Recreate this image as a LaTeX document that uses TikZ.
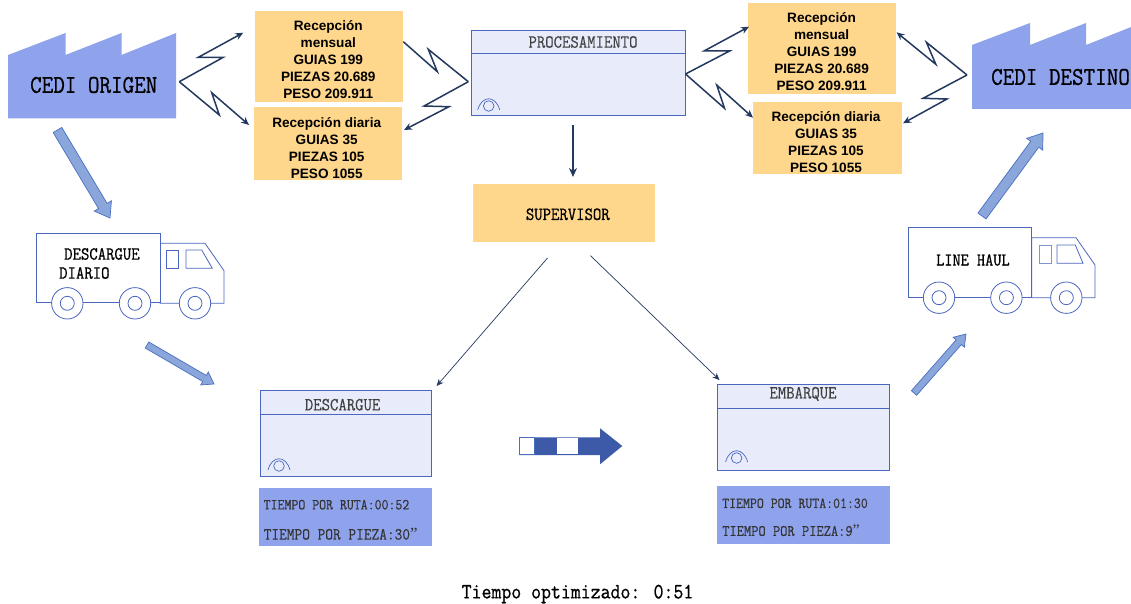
\documentclass[tikz,border=0pt]{standalone}
\usepackage{fontspec}
\setmainfont{Liberation Sans}
\newfontfamily\monoB[FakeStretch=.88,FakeBold=.7]{Latin Modern Mono}
\newfontfamily\monoR[FakeStretch=.88,FakeBold=.25]{Latin Modern Mono}
\newfontfamily\quotefont{Liberation Serif}
\usetikzlibrary{arrows.meta,calc}
\definecolor{orangeb}{HTML}{FFD78C}
\definecolor{periw}{HTML}{8FA2EC}
\definecolor{lightb}{HTML}{E8ECFA}
\definecolor{lineb}{HTML}{4A66BE}
\definecolor{navy}{HTML}{23395F}
\definecolor{arrowf}{HTML}{8AA6DA}
\definecolor{arrowd}{HTML}{4A70C0}
\definecolor{royal}{HTML}{3C5AA8}
\tikzset{
  x=1pt,y=-1pt,
  orangebox/.style={fill=orangeb,draw=none,inner sep=0pt},
  recvtext/.style={inner sep=0pt,align=center,font=\fontsize{13.6}{17}\selectfont\bfseries,text=black},
  timebox/.style={fill=periw,draw=none,inner sep=0pt},
  timetext/.style={inner sep=0pt,anchor=west,text=black!80},
  zig/.style={draw=navy,line width=1.5pt,line join=miter},
  ziga/.style={zig,-{Stealth[length=8pt,width=7pt]}},
  thinarrow/.style={draw=navy,line width=.7pt,-{Stealth[length=7pt,width=6pt]}},
  blockarrow/.style={fill=arrowf,draw=arrowd,line width=.7pt},
  truck/.style={draw=lineb,line width=.8pt,fill=white},
  panel/.style={fill=lightb,draw=lineb,line width=1pt,inner sep=0pt},
  paneltitle/.style={font=\fontsize{18.5}{18.5}\monoR,text=black!75,inner sep=0pt},
  bigmono/.style={font=\fontsize{25.5}{25.5}\monoB,text=black,inner sep=0pt,anchor=west},
  midmono/.style={font=\fontsize{18.5}{18.5}\monoB,text=black,inner sep=0pt,anchor=west},
}
\newcommand{\eyemark}[2]{\begin{scope}[shift={(#1,#2)}]
\draw[lineb,line width=.7pt] (0,0) circle (5.3);
\draw[lineb,line width=.7pt] (-11,4) .. controls (-7,-11) and (7,-11) .. (11,4);
\end{scope}}
\newcommand{\wheel}[2]{\begin{scope}[shift={(#1,#2)}]
\draw[truck] (0,0) circle (15.7);
\draw[truck] (0,0) circle (7);
\end{scope}}
% #1..#4 tail and tip, #5 half shaft, #6 half head, #7 head length
\newcommand{\blockar}[7]{%
\coordinate (ba) at (#1,#2); \coordinate (bb) at (#3,#4);
\coordinate (bh) at ($(bb)!#7pt!(ba)$);
\draw[blockarrow] ($(ba)!#5pt!90:(bb)$) -- ($(bh)!#5pt!-90:(ba)$) -- ($(bh)!#6pt!-90:(ba)$) -- (bb) -- ($(bh)!#6pt!90:(ba)$) -- ($(bh)!#5pt!90:(ba)$) -- ($(ba)!#5pt!-90:(bb)$) -- cycle;}
\begin{document}
\begin{tikzpicture}
\useasboundingbox (0,0) rectangle (1131,604);
\clip (0,0) rectangle (1131,604);
\fill[white] (0,0) rectangle (1131,604);
% factories
\fill[periw] (8,55) -- (65.5,33) -- (65.5,55) -- (121.5,33) -- (121.5,55) -- (176,33) -- (176,118.5) -- (8,118.5) -- cycle;
\fill[periw] (972,45) -- (1030,23) -- (1030,45) -- (1086,23) -- (1086,45) -- (1131,27) -- (1131,109) -- (972,109) -- cycle;
\node[bigmono] (origen) at (30,85) {CEDI ORIGEN};
\node[bigmono] (destino) at (991,77) {CEDI DESTINO};
% reception boxes
\node[orangebox,minimum width=148.3pt,minimum height=90.7pt] (r1) at (329.2,56.3) {};
\node[orangebox,minimum width=148.3pt,minimum height=72.7pt] (r2) at (327.9,143.7) {};
\node[orangebox,minimum width=148pt,minimum height=91pt] (r3) at (822,48.8) {};
\node[orangebox,minimum width=148.6pt,minimum height=72pt] (r4) at (827.3,138.3) {};
\node[recvtext] (t1) at (328.3,60) {Recepción\\mensual\\GUIAS 199\\PIEZAS 20.689\\PESO 209.911};
\node[recvtext] (t2) at (326.7,148.3) {Recepción diaria\\GUIAS 35\\PIEZAS 105\\PESO 1055};
\node[recvtext] (t3) at (821.6,51.2) {Recepción\\mensual\\GUIAS 199\\PIEZAS 20.689\\PESO 209.911};
\node[recvtext] (t4) at (826,141.8) {Recepción diaria\\GUIAS 35\\PIEZAS 105\\PESO 1055};
% panels
\node[panel,minimum width=214pt,minimum height=85pt] (proc) at (578.5,73.2) {};
\draw[lineb,line width=1pt] (471.5,53.7) -- (685.5,53.7);
\node[paneltitle] (proct) at (583,42) {PROCESAMIENTO};
\eyemark{488.7}{106}
\node[panel,minimum width=171.5pt,minimum height=86pt] (desc) at (346.2,433.7) {};
\draw[lineb,line width=1pt] (260.5,414.7) -- (432,414.7);
\node[paneltitle] (desct) at (342.6,404.7) {DESCARGUE};
\eyemark{279}{466}
\node[panel,minimum width=171.8pt,minimum height=85.6pt] (emb) at (803.7,427.5) {};
\draw[lineb,line width=1pt] (717.8,408.7) -- (889.6,408.7);
\node[paneltitle] (embt) at (803,394) {EMBARQUE};
\eyemark{736.6}{458}
% time boxes
\node[timebox,minimum width=173.2pt,minimum height=57.4pt] (tb1) at (345.4,517) {};
\node[timetext,font=\fontsize{15.3}{15.3}\monoR] (tb1a) at (263.5,504.7) {TIEMPO POR RUTA:00:52};
\node[timetext,font=\fontsize{17}{17}\monoR] (tb1b) at (263.5,534) {TIEMPO POR PIEZA:30{\quotefont ”}};
\node[timebox,minimum width=173pt,minimum height=58pt] (tb2) at (803.9,515.3) {};
\node[timetext,font=\fontsize{15.3}{15.3}\monoR] (tb2a) at (722,503.3) {TIEMPO POR RUTA:01:30};
\node[timetext,font=\fontsize{16}{16}\monoR] (tb2b) at (722,530.7) {TIEMPO POR PIEZA:9{\quotefont ”}};
% supervisor
\node[orangebox,minimum width=182pt,minimum height=58pt] (sup) at (564,213.3) {};
\node[midmono,anchor=center] (supt) at (567.8,214.3) {SUPERVISOR};
% zigzag connectors
\coordinate (zA) at (179.3,81.7);
\coordinate (zB) at (243.3,32.7);
\coordinate (zC) at (249,125);
\draw[ziga] (zA) -- (223.3,57.3) -- (198.3,57.3) -- (zB);
\draw[ziga] (zA) -- (219.3,115) -- (211.7,92.7) -- (zC);
\coordinate (zD) at (403.3,41.7);
\coordinate (zE) at (468.3,81.7);
\coordinate (zF) at (404,130);
\draw[zig] (zD) -- (437.3,71.7) -- (428.3,49.3) -- (zE);
\draw[ziga] (zE) -- (424,106) -- (449,106.7) -- (zF);
\coordinate (zG) at (685.5,74);
\coordinate (zH) at (749,26.7);
\coordinate (zI) at (753,117.7);
\draw[ziga] (zG) -- (729.6,51) -- (704,51) -- (zH);
\draw[ziga] (zG) -- (724.5,108.3) -- (716.7,85) -- (zI);
\coordinate (zJ) at (967,75);
\coordinate (zK) at (896.5,32.3);
\coordinate (zL) at (903,123.3);
\draw[ziga] (zJ) -- (926.4,42.3) -- (935.8,64.3) -- (zK);
\draw[ziga] (zJ) -- (923,98.3) -- (947,99) -- (zL);
% straight connectors
\coordinate (pS) at (573,125);
\coordinate (pE) at (573,177);
\draw[navy,line width=2.2pt,-{Stealth[length=9pt,width=8pt]}] (pS) -- (pE);
\coordinate (sL) at (547.5,258);
\coordinate (dT) at (436.6,386);
\coordinate (sR) at (590.5,255.7);
\coordinate (eT) at (719.5,380);
\draw[thinarrow] (sL) -- (dT);
\draw[thinarrow] (sR) -- (eT);
% block arrows
\blockar{57.5}{130}{110}{218}{5}{10}{14}
\blockar{147}{345}{214}{384}{3.5}{7.5}{11}
\blockar{914}{393}{966}{334}{3.5}{7.5}{11}
\blockar{982}{216}{1043}{133}{5}{10}{14}
% trucks
\draw[truck] (160,243.3) -- (205,243.3) -- (224,270.7) -- (224,303.3) -- (160,303.3) -- cycle;
\draw[truck] (36,233.3) rectangle (160,302.7);
\draw[lineb,line width=.8pt] (166.3,250) rectangle (178.3,268.3);
\draw[lineb,line width=.8pt] (186,250) -- (201.7,250) -- (212.3,268.3) -- (186,268.3) -- cycle;
\wheel{67.3}{303.3}\wheel{135}{303.3}\wheel{195}{303.3}
\node[midmono] (tr1a) at (64,254) {DESCARGUE};
\node[midmono] (tr1b) at (59,273) {DIARIO};
\draw[truck] (1031.7,237.7) -- (1076,237.7) -- (1095,265) -- (1095,297.7) -- (1031.7,297.7) -- cycle;
\draw[truck] (908,227.7) rectangle (1031.7,297);
\draw[lineb!70,line width=.8pt] (1039,245.7) rectangle (1051,263.3);
\draw[lineb,line width=.8pt] (1057,245) -- (1075.3,245) -- (1083,263.3) -- (1057,263.3) -- cycle;
\wheel{939}{297.7}\wheel{1006.4}{297.7}\wheel{1066.3}{297.7}
\node[midmono,font=\fontsize{18}{18}\monoB] (tr2) at (936,260) {LINE HAUL};
% progress arrow
\fill[royal] (519.3,437.3) -- (600,437.3) -- (600,428.3) -- (622.3,446) -- (600,464.3) -- (600,455) -- (519.3,455) -- cycle;
\draw[arrowd,fill=white,line width=.8pt] (519.8,437.8) rectangle (534.3,454.6);
\fill[white] (556.7,438) rectangle (578.3,454.4);
% footer
\node[inner sep=0pt,font=\fontsize{21.9}{21.9}\monoB,text=black] (opt) at (577.5,594) {Tiempo optimizado: 0:51};
\end{tikzpicture}
\end{document}
